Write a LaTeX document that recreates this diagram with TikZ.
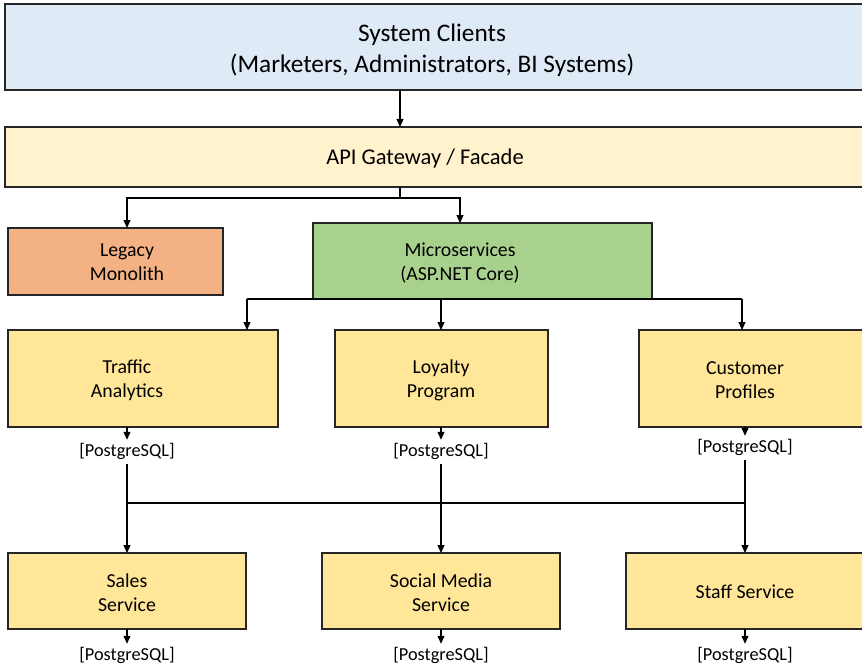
\documentclass[tikz,border=0pt]{standalone}
\usepackage{fontspec}
\setmainfont{Carlito}
\usetikzlibrary{arrows.meta}
\definecolor{cblue}{HTML}{DEEBF7}
\definecolor{cgate}{HTML}{FFF2CC}
\definecolor{clegacy}{HTML}{F4B183}
\definecolor{cmicro}{HTML}{A9D18E}
\definecolor{cserv}{HTML}{FFE699}
\definecolor{cedge}{HTML}{262626}
\tikzset{
  boxshape/.style={draw=cedge, line width=1.4pt, inner sep=0pt, outer sep=0pt},
  boxtext/.style={align=center, inner sep=0pt, font=\fontsize{19.8}{24}\selectfont},
  pglabel/.style={inner sep=0pt, inner ysep=4pt, text height=12pt, text depth=4pt, font=\fontsize{18.3}{20}\selectfont},
  arr/.style={line width=1.1pt, -{Triangle[length=8pt,width=7pt]}},
  ln/.style={line width=1.1pt}
}
\begin{document}
\begin{tikzpicture}[x=1pt,y=-1pt]
\useasboundingbox (0,0) rectangle (862,666);
% boxes
\node[boxshape, fill=cblue, minimum width=857.5pt, minimum height=86pt] (clients) at (433.75,47) {};
\node[boxshape, fill=cgate, minimum width=857.5pt, minimum height=60pt] (gw) at (433.75,157) {};
\node[boxshape, fill=clegacy, minimum width=215pt, minimum height=67pt] (legacy) at (115.5,261.5) {};
\node[boxshape, fill=cmicro, minimum width=339pt, minimum height=76pt] (micro) at (482.5,261) {};
\node[boxshape, fill=cserv, minimum width=270pt, minimum height=97pt] (traffic) at (143,378.5) {};
\node[boxshape, fill=cserv, minimum width=213pt, minimum height=97pt] (loyalty) at (441.5,378.5) {};
\node[boxshape, fill=cserv, minimum width=224pt, minimum height=97pt] (customer) at (751,378.5) {};
\node[boxshape, fill=cserv, minimum width=238pt, minimum height=76pt] (sales) at (127,591) {};
\node[boxshape, fill=cserv, minimum width=238pt, minimum height=76pt] (social) at (441,591) {};
\node[boxshape, fill=cserv, minimum width=237pt, minimum height=76pt] (staff) at (744.5,591) {};
% texts
\node[align=center, inner sep=0pt, font=\fontsize{25.3}{31}\selectfont] (clientsT) at (432,50) {System Clients\\(Marketers, Administrators, BI Systems)};
\node[inner sep=0pt, font=\fontsize{22.5}{26}\selectfont] (gwT) at (425,159) {API Gateway / Facade};
\node[boxtext] (legacyT) at (127,262.5) {Legacy\\Monolith};
\node[boxtext] (microT) at (460,263.5) {Microservices\\(ASP.NET Core)};
\node[boxtext] (trafficT) at (127,380) {Traffic\\Analytics};
\node[boxtext] (loyaltyT) at (441,380) {Loyalty\\Program};
\node[boxtext] (customerT) at (745,380) {Customer\\Profiles};
\node[boxtext] (salesT) at (127,593) {Sales\\Service};
\node[boxtext] (socialT) at (441,593) {Social Media\\Service};
\node[boxtext] (staffT) at (745,592) {Staff Service};
% database labels
\node[pglabel] (pg1) at (127,452) {[PostgreSQL]};
\node[pglabel] (pg2) at (441,452) {[PostgreSQL]};
\node[pglabel] (pg3) at (745,448) {[PostgreSQL]};
\node[pglabel] (pg4) at (127,656) {[PostgreSQL]};
\node[pglabel] (pg5) at (441,656) {[PostgreSQL]};
\node[pglabel] (pg6) at (745,656) {[PostgreSQL]};
% connectors
\coordinate (split) at (400,198);
\coordinate (msplitL) at (247,299);
\coordinate (msplitR) at (742,299);
\coordinate (j1) at (127,503);
\coordinate (j3) at (745,503);
\draw[arr] (clients.south -| split) -- (gw.north -| split);
\draw[ln] (gw.south -| split) -- (split);
\draw[arr] (split) -| (legacy.north -| legacyT);
\draw[arr] (split) -| (micro.north -| microT);
\draw[ln] (msplitL) -- (msplitR);
\draw[arr] (msplitL) -- (traffic.north -| msplitL);
\draw[arr] (micro.south -| pg2) -- (loyalty.north -| pg2);
\draw[arr] (msplitR) -- (customer.north -| msplitR);
\draw[arr] (traffic.south -| pg1) -- (pg1.north);
\draw[arr] (loyalty.south -| pg2) -- (pg2.north);
\draw[arr] (customer.south -| pg3) -- (pg3.north);
\draw[arr] (pg1.south) -- (sales.north -| pg1);
\draw[arr] (pg2.south) -- (social.north -| pg2);
\draw[arr] (pg3.south) -- (staff.north -| pg3);
\draw[ln] (j1) -- (j3);
\draw[arr] (sales.south -| pg4) -- (pg4.north);
\draw[arr] (social.south -| pg5) -- (pg5.north);
\draw[arr] (staff.south -| pg6) -- (pg6.north);
\end{tikzpicture}
\end{document}
